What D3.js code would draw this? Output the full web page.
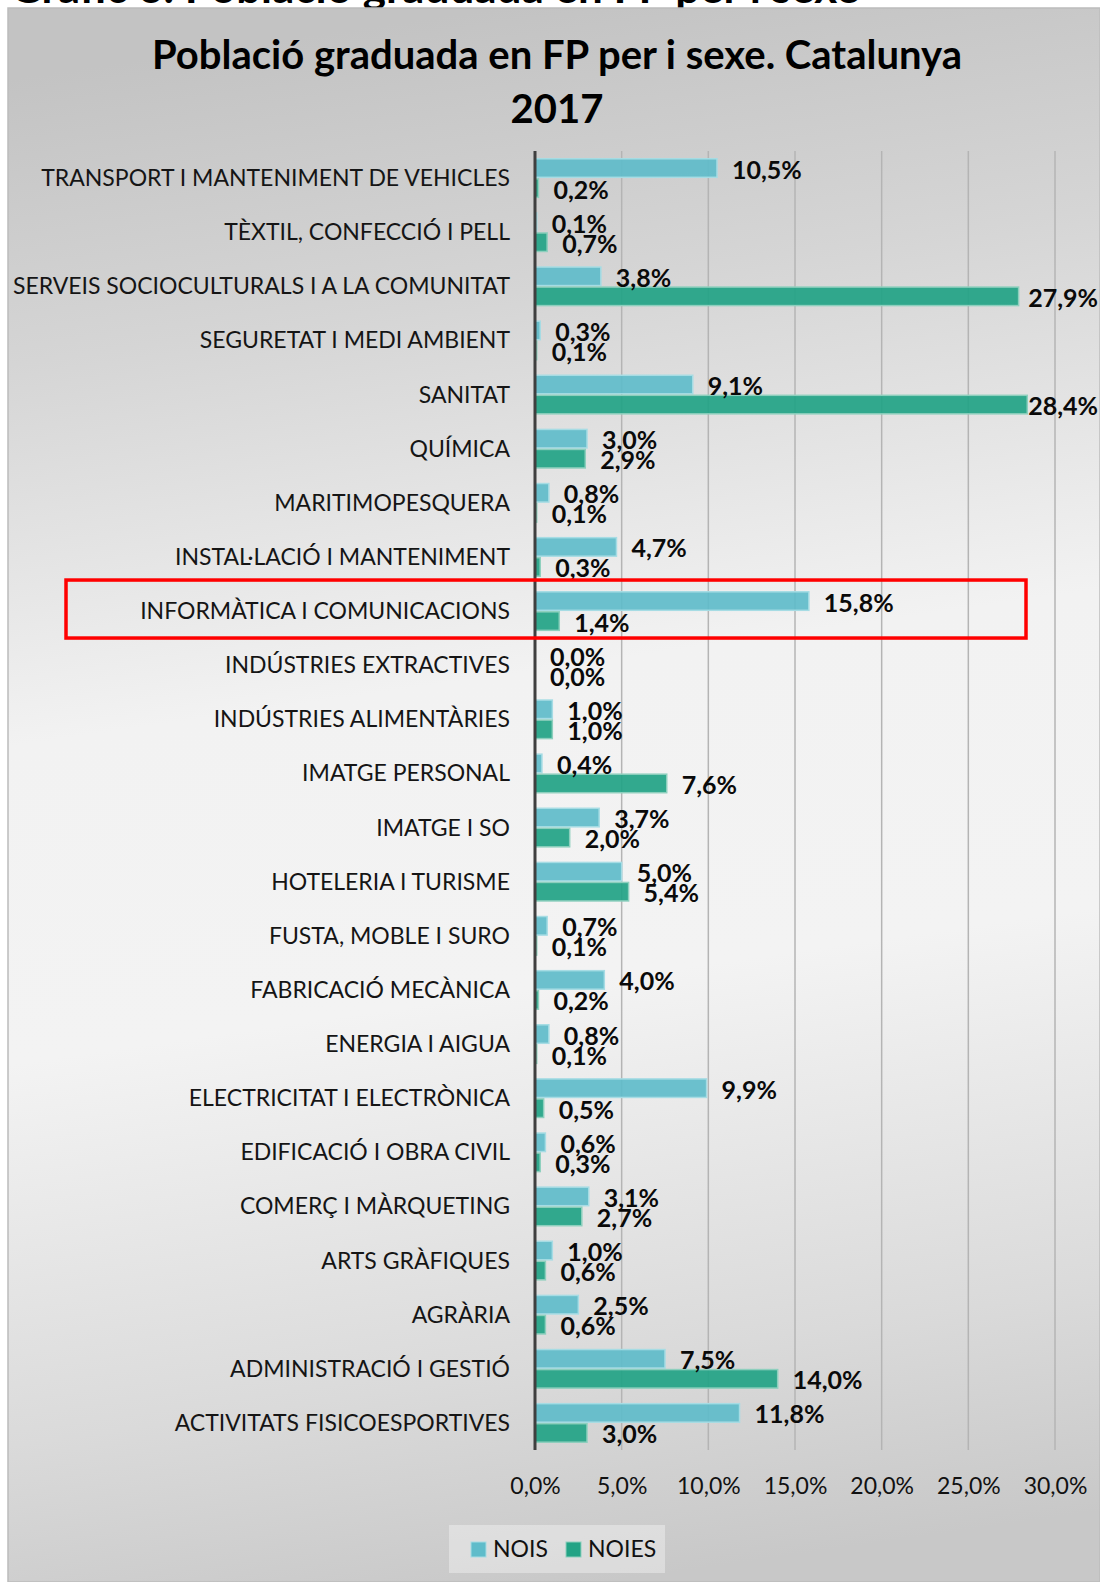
<!DOCTYPE html>
<html>
<head>
<meta charset="utf-8">
<script src="https://cdn.jsdelivr.net/npm/d3@7"></script>
<style>
  body { margin: 0; background: #fff; }
  svg { display: block; font-family: Lato, "Open Sans", sans-serif; }
</style>
</head>
<body>
<div id="chart"></div>
<script>
const categories = [
  "TRANSPORT I MANTENIMENT DE VEHICLES",
  "TÈXTIL, CONFECCIÓ I PELL",
  "SERVEIS SOCIOCULTURALS I A LA COMUNITAT",
  "SEGURETAT I MEDI AMBIENT",
  "SANITAT",
  "QUÍMICA",
  "MARITIMOPESQUERA",
  "INSTAL·LACIÓ I MANTENIMENT",
  "INFORMÀTICA I COMUNICACIONS",
  "INDÚSTRIES EXTRACTIVES",
  "INDÚSTRIES ALIMENTÀRIES",
  "IMATGE PERSONAL",
  "IMATGE I SO",
  "HOTELERIA I TURISME",
  "FUSTA, MOBLE I SURO",
  "FABRICACIÓ MECÀNICA",
  "ENERGIA I AIGUA",
  "ELECTRICITAT I ELECTRÒNICA",
  "EDIFICACIÓ I OBRA CIVIL",
  "COMERÇ I MÀRQUETING",
  "ARTS GRÀFIQUES",
  "AGRÀRIA",
  "ADMINISTRACIÓ I GESTIÓ",
  "ACTIVITATS FISICOESPORTIVES"
];
const nois  = [10.5, 0.1, 3.8, 0.3, 9.1, 3.0, 0.8, 4.7, 15.8, 0.0, 1.0, 0.4, 3.7, 5.0, 0.7, 4.0, 0.8, 9.9, 0.6, 3.1, 1.0, 2.5, 7.5, 11.8];
const noies = [0.2, 0.7, 27.9, 0.1, 28.4, 2.9, 0.1, 0.3, 1.4, 0.0, 1.0, 7.6, 2.0, 5.4, 0.1, 0.2, 0.1, 0.5, 0.3, 2.7, 0.6, 0.6, 14.0, 3.0];
const seriesNames = ["NOIS", "NOIES"];
const xTicks = [0, 5, 10, 15, 20, 25, 30];
const highlighted = "INFORMÀTICA I COMUNICACIONS";

const W = 1100, H = 1582;
const colors = { NOIS: "#5fbcca", NOIES: "#22a385" };
const strokes = { NOIS: "#a6dce4", NOIES: "#8dcfbd" };

const fmt = v => d3.format(".1f")(v).replace(".", ",") + "%";

const svg = d3.select("#chart").append("svg")
  .attr("width", W)
  .attr("height", H);

const defs = svg.append("defs");
const grad = defs.append("linearGradient")
  .attr("id", "bg")
  .attr("x1", 0.45).attr("y1", 0)
  .attr("x2", 0.55).attr("y2", 1);
[[0, "#c3c3c3"], [0.18, "#d5d5d5"], [0.42, "#f2f2f2"], [0.62, "#f3f3f3"], [0.86, "#dadada"], [1, "#c8c8c8"]]
  .forEach(([o, c]) => grad.append("stop").attr("offset", o).attr("stop-color", c));

// heading of the page, cut off by the chart box
svg.append("text")
  .attr("x", 10)
  .attr("y", 3)
  .style("font-weight", "bold")
  .style("font-size", "44px")
  .text("Gràfic 6. Població graduada en FP per i sexe");

// chart area
svg.append("rect")
  .attr("x", 8).attr("y", 8)
  .attr("width", W - 8).attr("height", H - 8)
  .attr("fill", "url(#bg)")
  .attr("stroke", "#bcbcbc")
  .attr("stroke-width", 1.5);

// title
const title = svg.append("text")
  .attr("text-anchor", "middle")
  .style("font-weight", "bold")
  .style("font-size", "40px")
  .attr("fill", "#000");
title.append("tspan").attr("x", 557).attr("y", 69).text("Població graduada en FP per i sexe. Catalunya");
title.append("tspan").attr("x", 557).attr("y", 123).text("2017");

const x = d3.scaleLinear().domain([0, 30]).range([535, 1055]);
const y = d3.scaleBand().domain(categories).range([151, 1450]).paddingInner(0.26).paddingOuter(0.13);
const ys = d3.scaleBand().domain(seriesNames).range([0, y.bandwidth()]);

// gridlines
svg.append("g")
  .selectAll("line")
  .data(xTicks.slice(1))
  .join("line")
  .attr("x1", d => x(d)).attr("x2", d => x(d))
  .attr("y1", 151).attr("y2", 1450)
  .attr("stroke", "#b4b4b4")
  .attr("stroke-width", 1.5);

// x axis labels
const xAxis = svg.append("g")
  .attr("transform", "translate(0,1450)")
  .call(d3.axisBottom(x).tickValues(xTicks).tickSize(0).tickPadding(28).tickFormat(fmt));
xAxis.select(".domain").remove();
xAxis.selectAll("text")
  .style("font-family", "Lato, 'Open Sans', sans-serif")
  .style("font-size", "23px")
  .attr("fill", "#111");

// category labels
svg.append("g")
  .selectAll("text")
  .data(categories)
  .join("text")
  .attr("x", 510)
  .attr("y", d => y(d) + y.bandwidth() / 2)
  .attr("dy", "0.35em")
  .attr("text-anchor", "end")
  .style("font-size", "23px")
  .attr("fill", "#151515")
  .text(d => d);

const rows = categories.map((c, i) => ({ cat: c, NOIS: nois[i], NOIES: noies[i] }));

// bars
seriesNames.forEach(s => {
  svg.append("g")
    .selectAll("rect")
    .data(rows)
    .join("rect")
    .attr("x", x(0))
    .attr("y", d => y(d.cat) + ys(s) + 0.75)
    .attr("width", d => x(d[s]) - x(0))
    .attr("height", ys.bandwidth() - 1.5)
    .attr("fill", colors[s])
    .attr("fill-opacity", 0.92)
    .attr("stroke", d => d[s] > 0 ? strokes[s] : "none")
    .attr("stroke-width", 1.5);
});

// zero axis line
svg.append("line")
  .attr("x1", x(0)).attr("x2", x(0))
  .attr("y1", 151).attr("y2", 1450)
  .attr("stroke", "#3f3f3f")
  .attr("stroke-width", 3);

// value labels
seriesNames.forEach(s => {
  svg.append("g")
    .selectAll("text")
    .data(rows)
    .join("text")
    .attr("x", d => x(d[s]) + 15)
    .attr("y", d => y(d.cat) + ys(s) + ys.bandwidth() / 2)
    .attr("dy", "0.42em")
    .style("font-weight", "bold")
    .style("font-size", "25px")
    .attr("fill", "#0a0a0a")
    .text(d => fmt(d[s]))
    .each(function() {
      const w = this.getComputedTextLength();
      const x0 = +this.getAttribute("x");
      if (x0 + w > 1098) this.setAttribute("x", 1098 - w);
    });
});

// highlight box
svg.append("rect")
  .attr("x", 66)
  .attr("y", y(highlighted) - 11)
  .attr("width", 960)
  .attr("height", 58)
  .attr("fill", "none")
  .attr("stroke", "#ff0000")
  .attr("stroke-width", 3.5);

// legend
const legend = svg.append("g");
legend.append("rect")
  .attr("x", 449).attr("y", 1525)
  .attr("width", 216).attr("height", 48)
  .attr("fill", "#ffffff")
  .attr("fill-opacity", 0.35);

const legendX = { NOIS: 471, NOIES: 566 };
seriesNames.forEach(s => {
  legend.append("rect")
    .attr("x", legendX[s]).attr("y", 1542)
    .attr("width", 15).attr("height", 15)
    .attr("fill", colors[s])
    .attr("stroke", strokes[s])
    .attr("stroke-width", 1);
  legend.append("text")
    .attr("x", legendX[s] + 22)
    .attr("y", 1557)
    .style("font-size", "23px")
    .attr("fill", "#111")
    .text(s);
});
</script>
</body>
</html>
